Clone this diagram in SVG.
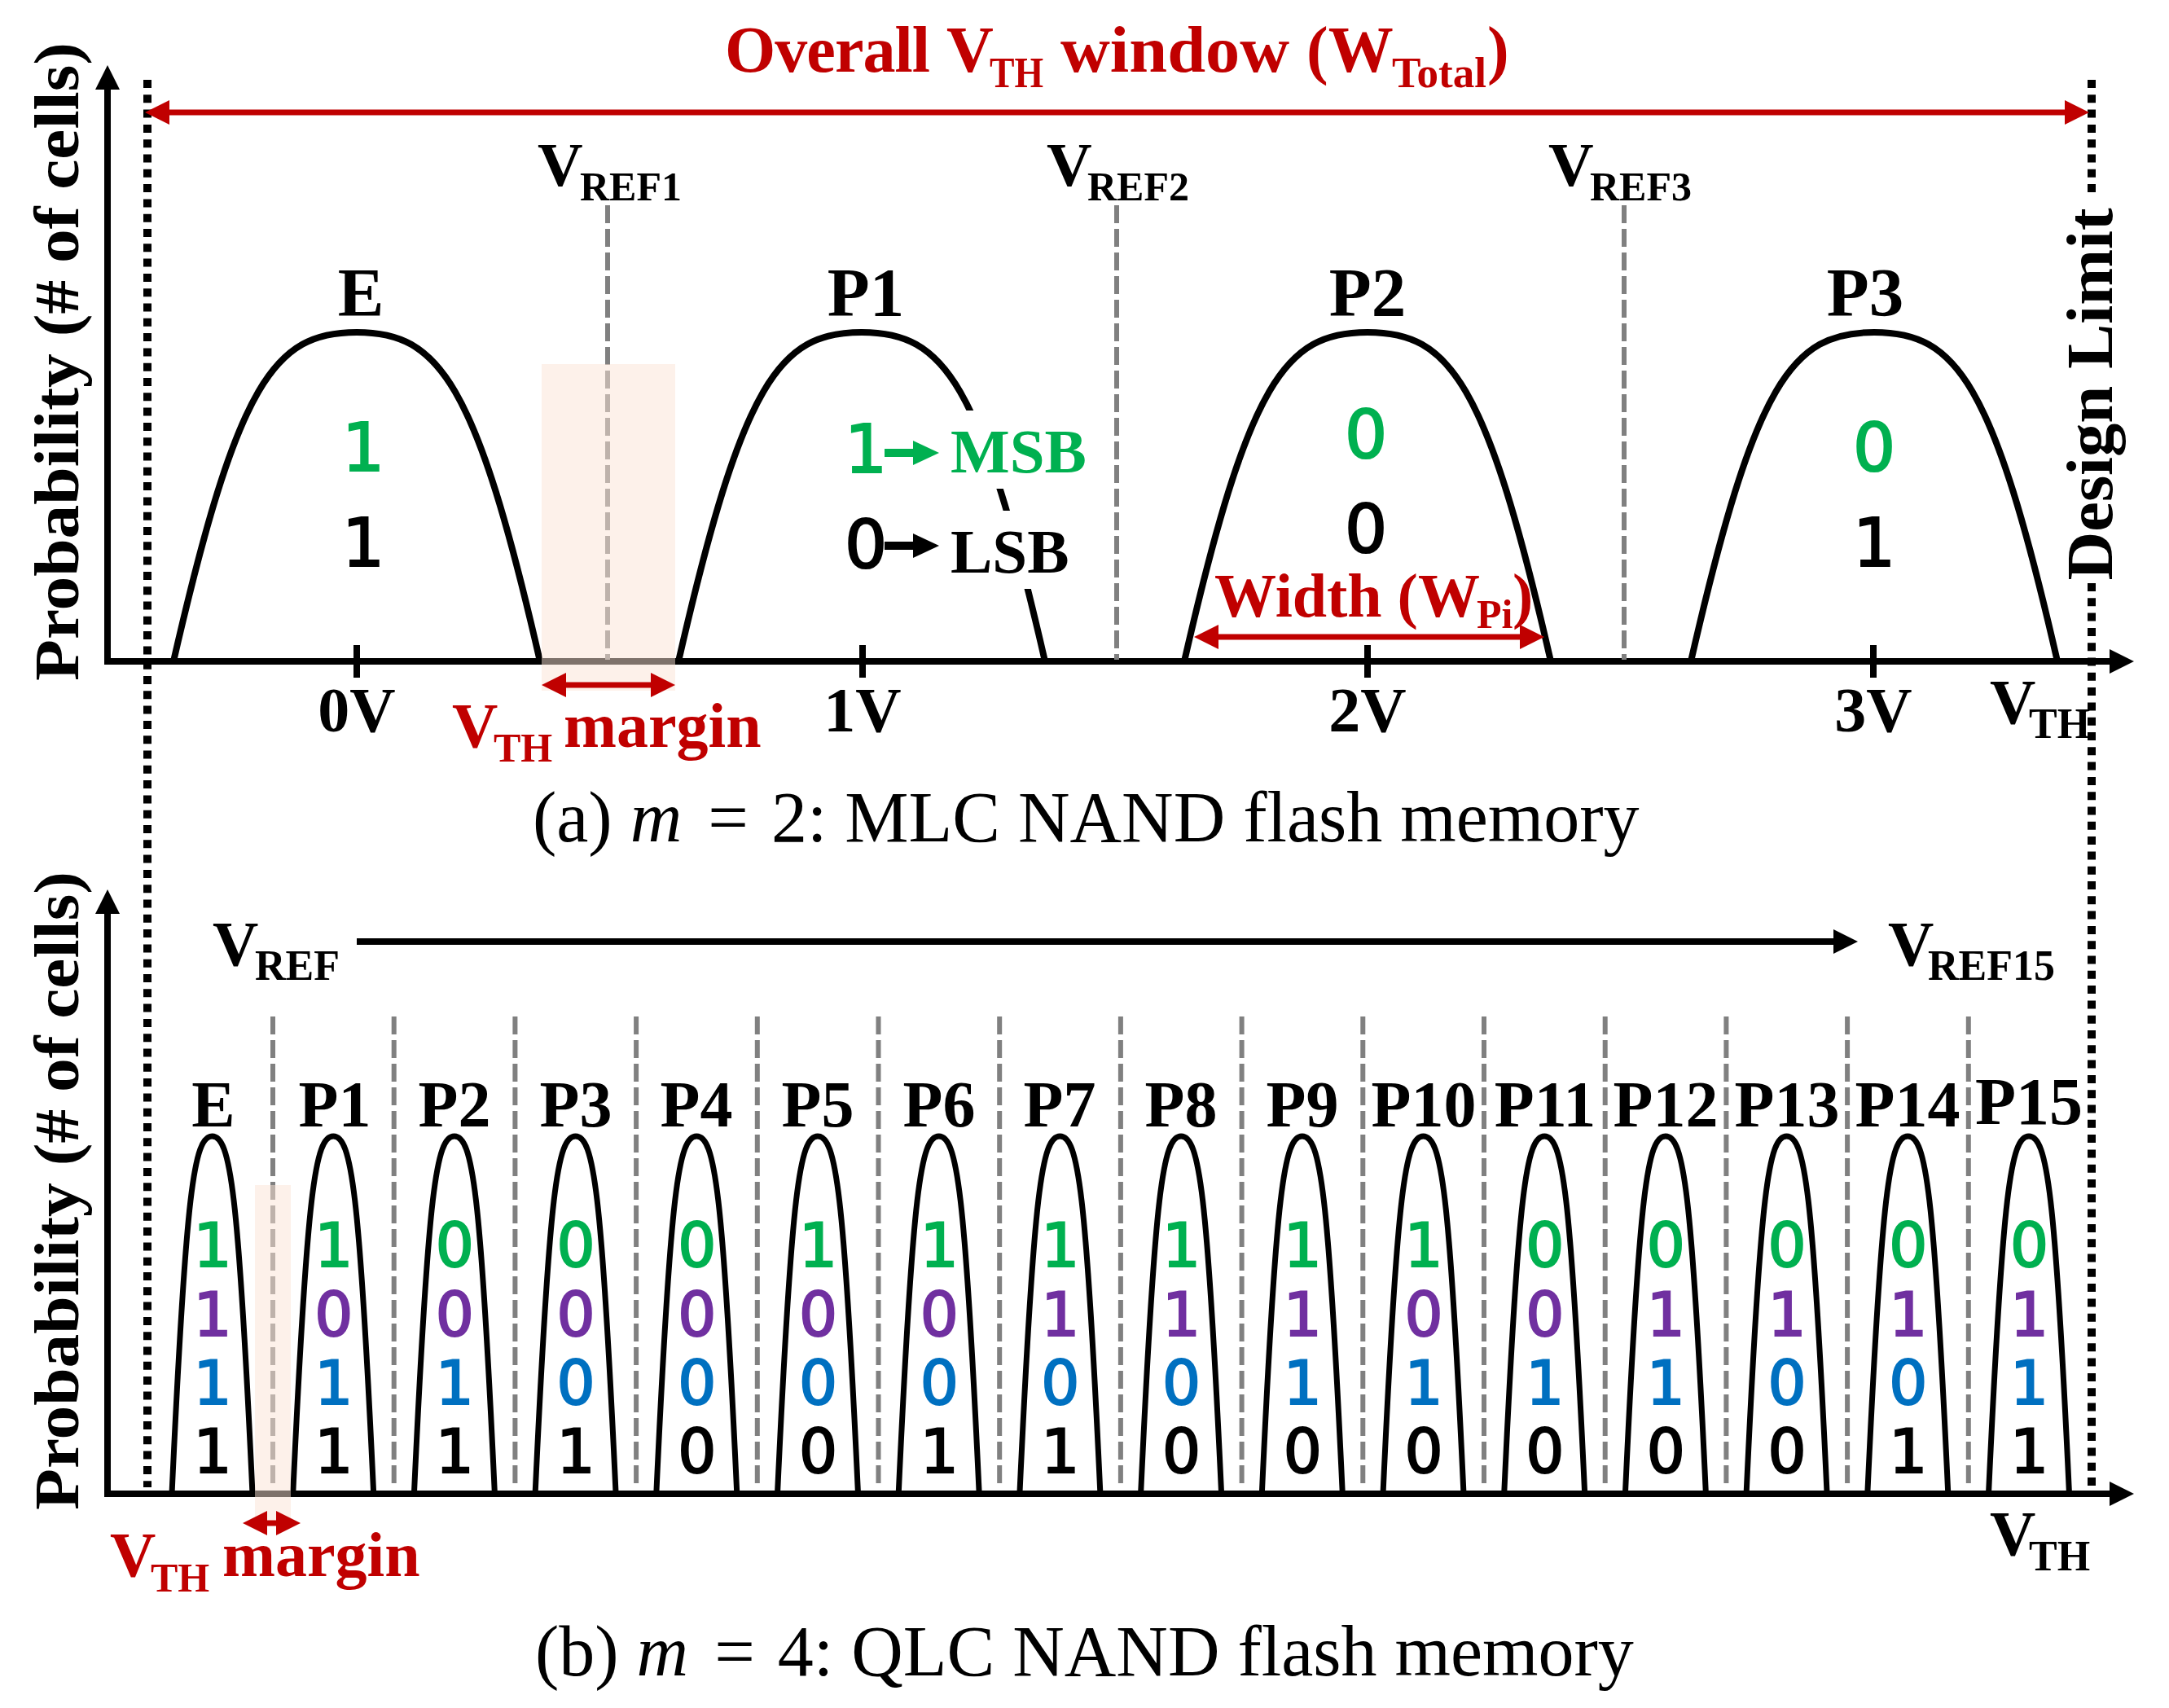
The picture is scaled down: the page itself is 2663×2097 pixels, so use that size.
<svg xmlns="http://www.w3.org/2000/svg" width="2663" height="2097" viewBox="0 0 2663 2097">
<style>
.lbl{font-family:"Liberation Serif","Times New Roman",serif;font-weight:bold;fill:#000}
.red{fill:#C00000}
.bit{font-family:"DejaVu Sans","Liberation Sans",sans-serif;text-anchor:middle;stroke-width:2.2}
.g{fill:#00B050}.p{fill:#7030A0}.b{fill:#0070C0}.k{fill:#000}
.bit .g,.bit.g{stroke:#00B050}.bit .p{stroke:#7030A0}.bit .b{stroke:#0070C0}.bit .k,.bit.k{stroke:#000}
.ref{stroke:#808080;stroke-width:6;stroke-dasharray:22 7;fill:none}
.dot{stroke:#000;stroke-width:10;stroke-dasharray:10 8.3;fill:none}
.axis{stroke:#000;stroke-width:8;fill:none}
.cap{font-family:"Liberation Serif","Times New Roman",serif;font-size:88px;fill:#000}
.margin{fill:#FCE4D6;opacity:.5}
.ra{stroke:#C00000;stroke-width:7;fill:none}
</style>
<defs>
<path id="bellA" d="M-225,812 C-146.25,468.6 -101.25,408 0,408 C101.25,408 146.25,468.6 225,812" fill="none" stroke="#000" stroke-width="8"/>
<path id="bellB" d="M-49.5,1834 C-32.2,1461 -22.3,1395 0,1395 C22.3,1395 32.2,1461 49.5,1834" fill="none" stroke="#000" stroke-width="7"/>
<marker id="hRed" viewBox="0 0 30 30" refX="0" refY="15" markerWidth="30" markerHeight="30" markerUnits="userSpaceOnUse" orient="auto-start-reverse"><path d="M0,0L30,15L0,30z" fill="#C00000"/></marker>
<marker id="hBlk" viewBox="0 0 30 30" refX="0" refY="15" markerWidth="30" markerHeight="30" markerUnits="userSpaceOnUse" orient="auto-start-reverse"><path d="M0,0L30,15L0,30z" fill="#000"/></marker>
</defs>

<!-- axes -->
<g id="axes">
<line class="axis" x1="132" y1="816" x2="132" y2="110" marker-end="url(#hBlk)"/>
<line class="axis" x1="128" y1="812" x2="2590" y2="812" marker-end="url(#hBlk)"/>
<line class="axis" x1="132" y1="1838" x2="132" y2="1122" marker-end="url(#hBlk)"/>
<line class="axis" x1="128" y1="1834" x2="2590" y2="1834" marker-end="url(#hBlk)"/>
<g stroke="#000" stroke-width="8">
<line x1="438" y1="792" x2="438" y2="832"/>
<line x1="1059" y1="792" x2="1059" y2="832"/>
<line x1="1679" y1="792" x2="1679" y2="832"/>
<line x1="2300" y1="792" x2="2300" y2="832"/>
</g>
<text class="lbl" font-size="78" transform="translate(96,444) rotate(-90)" text-anchor="middle" textLength="784" lengthAdjust="spacingAndGlyphs">Probability (# of cells)</text>
<text class="lbl" font-size="78" transform="translate(96,1462) rotate(-90)" text-anchor="middle" textLength="784" lengthAdjust="spacingAndGlyphs">Probability (# of cells)</text>
<text class="lbl" font-size="78" text-anchor="middle" x="438" y="898">0V</text>
<text class="lbl" font-size="78" text-anchor="middle" x="1059" y="898">1V</text>
<text class="lbl" font-size="78" text-anchor="middle" x="1679" y="898">2V</text>
<text class="lbl" font-size="78" text-anchor="middle" x="2300" y="898">3V</text>
<text class="lbl" font-size="78"><tspan x="2443" y="888">V</tspan><tspan x="2491" y="906" font-size="52">TH</tspan></text>
<text class="lbl" font-size="78"><tspan x="2443" y="1909">V</tspan><tspan x="2491" y="1928" font-size="52">TH</tspan></text>
</g>

<!-- design limits -->
<g id="limits">
<line class="dot" x1="181" y1="98" x2="181" y2="1826"/>
<line class="dot" x1="2568" y1="98" x2="2568" y2="244"/>
<line class="dot" x1="2568" y1="716" x2="2568" y2="1826"/>
<text class="lbl" font-size="80" transform="translate(2593,484) rotate(-90)" text-anchor="middle" textLength="457" lengthAdjust="spacingAndGlyphs">Design Limit</text>
</g>

<!-- read reference voltages -->
<g id="vref-mlc">
<line class="ref" x1="746" y1="252" x2="746" y2="810"/>
<line class="ref" x1="1371" y1="252" x2="1371" y2="810"/>
<line class="ref" x1="1994" y1="252" x2="1994" y2="810"/>
<text class="lbl" font-size="77"><tspan x="660" y="228">V</tspan><tspan x="712" y="246" font-size="50">REF1</tspan></text>
<text class="lbl" font-size="77"><tspan x="1285" y="228">V</tspan><tspan x="1335" y="246" font-size="50">REF2</tspan></text>
<text class="lbl" font-size="77"><tspan x="1901" y="228">V</tspan><tspan x="1952" y="246" font-size="50">REF3</tspan></text>
</g>
<g id="vref-qlc">
<g class="ref">
<line x1="335" y1="1248" x2="335" y2="1828"/>
<line x1="483.7" y1="1248" x2="483.7" y2="1828"/>
<line x1="632.4" y1="1248" x2="632.4" y2="1828"/>
<line x1="781.1" y1="1248" x2="781.1" y2="1828"/>
<line x1="929.8" y1="1248" x2="929.8" y2="1828"/>
<line x1="1078.5" y1="1248" x2="1078.5" y2="1828"/>
<line x1="1227.2" y1="1248" x2="1227.2" y2="1828"/>
<line x1="1375.9" y1="1248" x2="1375.9" y2="1828"/>
<line x1="1524.6" y1="1248" x2="1524.6" y2="1828"/>
<line x1="1673.3" y1="1248" x2="1673.3" y2="1828"/>
<line x1="1822" y1="1248" x2="1822" y2="1828"/>
<line x1="1970.7" y1="1248" x2="1970.7" y2="1828"/>
<line x1="2119.4" y1="1248" x2="2119.4" y2="1828"/>
<line x1="2268.1" y1="1248" x2="2268.1" y2="1828"/>
<line x1="2416.8" y1="1248" x2="2416.8" y2="1828"/>
</g>
<text class="lbl" font-size="78"><tspan x="261" y="1185">V</tspan><tspan x="313" y="1203" font-size="52">REF</tspan></text>
<text class="lbl" font-size="78"><tspan x="2318" y="1185">V</tspan><tspan x="2367" y="1203" font-size="52">REF15</tspan></text>
</g>

<!-- MLC states -->
<g id="mlc-E">
<use href="#bellA" x="438"/>
<text class="lbl" font-size="85" text-anchor="middle" x="443" y="388">E</text>
<text class="bit" font-size="82"><tspan class="g" x="446" y="578">1</tspan><tspan class="k" x="446" y="695">1</tspan></text>
</g>
<g id="mlc-P1">
<use href="#bellA" x="1058"/>
<text class="lbl" font-size="85" text-anchor="middle" x="1063" y="388">P1</text>
<rect x="1158" y="504" width="167" height="96" fill="#fff"/>
<rect x="1158" y="627" width="167" height="96" fill="#fff"/>
<text class="bit g" font-size="82" x="1063" y="580">1</text>
<line x1="1086" y1="556" x2="1126" y2="556" stroke="#00B050" stroke-width="10"/>
<path d="M1121,541L1153,556L1121,571z" fill="#00B050"/>
<text class="lbl g" font-size="77" x="1167" y="580">MSB</text>
<text class="bit k" font-size="82" x="1063" y="697">0</text>
<line x1="1086" y1="670" x2="1126" y2="670" stroke="#000" stroke-width="10"/>
<path d="M1121,655L1153,670L1121,685z" fill="#000"/>
<text class="lbl" font-size="77" x="1167" y="703">LSB</text>
</g>
<g id="mlc-P2">
<use href="#bellA" x="1679"/>
<text class="lbl" font-size="85" text-anchor="middle" x="1679" y="388">P2</text>
<text class="bit" font-size="82"><tspan class="g" x="1677" y="562">0</tspan><tspan class="k" x="1677" y="678">0</tspan></text>
<text class="lbl red" font-size="76"><tspan x="1491" y="757">Width (W</tspan><tspan x="1813" y="771" font-size="50">Pi</tspan><tspan x="1857" y="757">)</tspan></text>
</g>
<g id="mlc-P3">
<use href="#bellA" x="2301"/>
<text class="lbl" font-size="85" text-anchor="middle" x="2290" y="388">P3</text>
<text class="bit" font-size="82"><tspan class="g" x="2301" y="578">0</tspan><tspan class="k" x="2301" y="695">1</tspan></text>
</g>

<!-- QLC states -->
<g id="qlc-E"><use href="#bellB" x="260.5"/><text class="lbl" font-size="80" text-anchor="middle" x="262" y="1383">E</text>
<text class="bit" font-size="74"><tspan class="g" x="261" y="1555">1</tspan><tspan class="p" x="261" y="1640">1</tspan><tspan class="b" x="261" y="1724">1</tspan><tspan class="k" x="261" y="1808">1</tspan></text></g>
<g id="qlc-P1"><use href="#bellB" x="409.2"/><text class="lbl" font-size="80" text-anchor="middle" x="411" y="1383">P1</text>
<text class="bit" font-size="74"><tspan class="g" x="409.7" y="1555">1</tspan><tspan class="p" x="409.7" y="1640">0</tspan><tspan class="b" x="409.7" y="1724">1</tspan><tspan class="k" x="409.7" y="1808">1</tspan></text></g>
<g id="qlc-P2"><use href="#bellB" x="557.9"/><text class="lbl" font-size="80" text-anchor="middle" x="558" y="1383">P2</text>
<text class="bit" font-size="74"><tspan class="g" x="558.4" y="1555">0</tspan><tspan class="p" x="558.4" y="1640">0</tspan><tspan class="b" x="558.4" y="1724">1</tspan><tspan class="k" x="558.4" y="1808">1</tspan></text></g>
<g id="qlc-P3"><use href="#bellB" x="706.6"/><text class="lbl" font-size="80" text-anchor="middle" x="707" y="1383">P3</text>
<text class="bit" font-size="74"><tspan class="g" x="707.1" y="1555">0</tspan><tspan class="p" x="707.1" y="1640">0</tspan><tspan class="b" x="707.1" y="1724">0</tspan><tspan class="k" x="707.1" y="1808">1</tspan></text></g>
<g id="qlc-P4"><use href="#bellB" x="855.3"/><text class="lbl" font-size="80" text-anchor="middle" x="855" y="1383">P4</text>
<text class="bit" font-size="74"><tspan class="g" x="855.8" y="1555">0</tspan><tspan class="p" x="855.8" y="1640">0</tspan><tspan class="b" x="855.8" y="1724">0</tspan><tspan class="k" x="855.8" y="1808">0</tspan></text></g>
<g id="qlc-P5"><use href="#bellB" x="1004"/><text class="lbl" font-size="80" text-anchor="middle" x="1004" y="1383">P5</text>
<text class="bit" font-size="74"><tspan class="g" x="1004.5" y="1555">1</tspan><tspan class="p" x="1004.5" y="1640">0</tspan><tspan class="b" x="1004.5" y="1724">0</tspan><tspan class="k" x="1004.5" y="1808">0</tspan></text></g>
<g id="qlc-P6"><use href="#bellB" x="1152.7"/><text class="lbl" font-size="80" text-anchor="middle" x="1153" y="1383">P6</text>
<text class="bit" font-size="74"><tspan class="g" x="1153.2" y="1555">1</tspan><tspan class="p" x="1153.2" y="1640">0</tspan><tspan class="b" x="1153.2" y="1724">0</tspan><tspan class="k" x="1153.2" y="1808">1</tspan></text></g>
<g id="qlc-P7"><use href="#bellB" x="1301.4"/><text class="lbl" font-size="80" text-anchor="middle" x="1301" y="1383">P7</text>
<text class="bit" font-size="74"><tspan class="g" x="1301.9" y="1555">1</tspan><tspan class="p" x="1301.9" y="1640">1</tspan><tspan class="b" x="1301.9" y="1724">0</tspan><tspan class="k" x="1301.9" y="1808">1</tspan></text></g>
<g id="qlc-P8"><use href="#bellB" x="1450.1"/><text class="lbl" font-size="80" text-anchor="middle" x="1450" y="1383">P8</text>
<text class="bit" font-size="74"><tspan class="g" x="1450.6" y="1555">1</tspan><tspan class="p" x="1450.6" y="1640">1</tspan><tspan class="b" x="1450.6" y="1724">0</tspan><tspan class="k" x="1450.6" y="1808">0</tspan></text></g>
<g id="qlc-P9"><use href="#bellB" x="1598.8"/><text class="lbl" font-size="80" text-anchor="middle" x="1599" y="1383">P9</text>
<text class="bit" font-size="74"><tspan class="g" x="1599.3" y="1555">1</tspan><tspan class="p" x="1599.3" y="1640">1</tspan><tspan class="b" x="1599.3" y="1724">1</tspan><tspan class="k" x="1599.3" y="1808">0</tspan></text></g>
<g id="qlc-P10"><use href="#bellB" x="1747.5"/><text class="lbl" font-size="80" text-anchor="middle" x="1748" y="1383">P10</text>
<text class="bit" font-size="74"><tspan class="g" x="1748" y="1555">1</tspan><tspan class="p" x="1748" y="1640">0</tspan><tspan class="b" x="1748" y="1724">1</tspan><tspan class="k" x="1748" y="1808">0</tspan></text></g>
<g id="qlc-P11"><use href="#bellB" x="1896.2"/><text class="lbl" font-size="80" text-anchor="middle" x="1897" y="1383">P11</text>
<text class="bit" font-size="74"><tspan class="g" x="1896.7" y="1555">0</tspan><tspan class="p" x="1896.7" y="1640">0</tspan><tspan class="b" x="1896.7" y="1724">1</tspan><tspan class="k" x="1896.7" y="1808">0</tspan></text></g>
<g id="qlc-P12"><use href="#bellB" x="2044.9"/><text class="lbl" font-size="80" text-anchor="middle" x="2045" y="1383">P12</text>
<text class="bit" font-size="74"><tspan class="g" x="2045.4" y="1555">0</tspan><tspan class="p" x="2045.4" y="1640">1</tspan><tspan class="b" x="2045.4" y="1724">1</tspan><tspan class="k" x="2045.4" y="1808">0</tspan></text></g>
<g id="qlc-P13"><use href="#bellB" x="2193.6"/><text class="lbl" font-size="80" text-anchor="middle" x="2194" y="1383">P13</text>
<text class="bit" font-size="74"><tspan class="g" x="2194.1" y="1555">0</tspan><tspan class="p" x="2194.1" y="1640">1</tspan><tspan class="b" x="2194.1" y="1724">0</tspan><tspan class="k" x="2194.1" y="1808">0</tspan></text></g>
<g id="qlc-P14"><use href="#bellB" x="2342.3"/><text class="lbl" font-size="80" text-anchor="middle" x="2342" y="1383">P14</text>
<text class="bit" font-size="74"><tspan class="g" x="2342.8" y="1555">0</tspan><tspan class="p" x="2342.8" y="1640">1</tspan><tspan class="b" x="2342.8" y="1724">0</tspan><tspan class="k" x="2342.8" y="1808">1</tspan></text></g>
<g id="qlc-P15"><use href="#bellB" x="2491"/><text class="lbl" font-size="82" text-anchor="middle" x="2491" y="1380">P15</text>
<text class="bit" font-size="74"><tspan class="g" x="2491.5" y="1555">0</tspan><tspan class="p" x="2491.5" y="1640">1</tspan><tspan class="b" x="2491.5" y="1724">1</tspan><tspan class="k" x="2491.5" y="1808">1</tspan></text></g>

<!-- margins -->
<g id="margin-mlc">
<rect class="margin" x="665" y="447" width="164" height="401"/>
<text class="lbl red" font-size="78"><tspan x="555" y="917">V</tspan><tspan x="606" y="935" font-size="50">TH</tspan><tspan x="692" y="917">margin</tspan></text>
</g>
<g id="margin-qlc">
<rect class="margin" x="313" y="1455" width="44" height="413"/>
<text class="lbl red" font-size="78"><tspan x="135" y="1935">V</tspan><tspan x="185" y="1954" font-size="50">TH</tspan><tspan x="273" y="1935">margin</tspan></text>
</g>

<!-- title -->
<g id="title">
<text class="lbl red" font-size="80"><tspan x="890" y="88" textLength="252">Overall</tspan><tspan x="1162" y="88">V</tspan><tspan x="1215" y="107" font-size="53" textLength="66" lengthAdjust="spacingAndGlyphs">TH</tspan><tspan x="1302" y="88" textLength="281" lengthAdjust="spacingAndGlyphs">window</tspan><tspan x="1604" y="88">(W</tspan><tspan x="1709" y="107" font-size="53" textLength="116" lengthAdjust="spacingAndGlyphs">Total</tspan><tspan x="1826" y="88">)</tspan></text>
</g>

<!-- connectors -->
<g id="connectors">
<line class="ra" x1="208" y1="138" x2="2535" y2="138" marker-start="url(#hRed)" marker-end="url(#hRed)"/>
<line class="ra" x1="695" y1="841" x2="799" y2="841" marker-start="url(#hRed)" marker-end="url(#hRed)"/>
<line class="ra" x1="1496" y1="782" x2="1866" y2="782" marker-start="url(#hRed)" marker-end="url(#hRed)"/>
<line class="ra" x1="328" y1="1870" x2="339" y2="1870" marker-start="url(#hRed)" marker-end="url(#hRed)"/>
<line x1="438" y1="1156" x2="2251" y2="1156" stroke="#000" stroke-width="8" marker-end="url(#hBlk)"/>
</g>

<!-- captions -->
<g id="captions">
<text class="cap" x="654" y="1033">(a) <tspan font-style="italic">m</tspan> <tspan dx="10">=</tspan> <tspan dx="6">2: MLC NAND flash memory</tspan></text>
<text class="cap" x="657" y="2057">(b) <tspan font-style="italic">m</tspan> <tspan dx="10">=</tspan> <tspan dx="6">4: QLC NAND flash memory</tspan></text>
</g>
</svg>
